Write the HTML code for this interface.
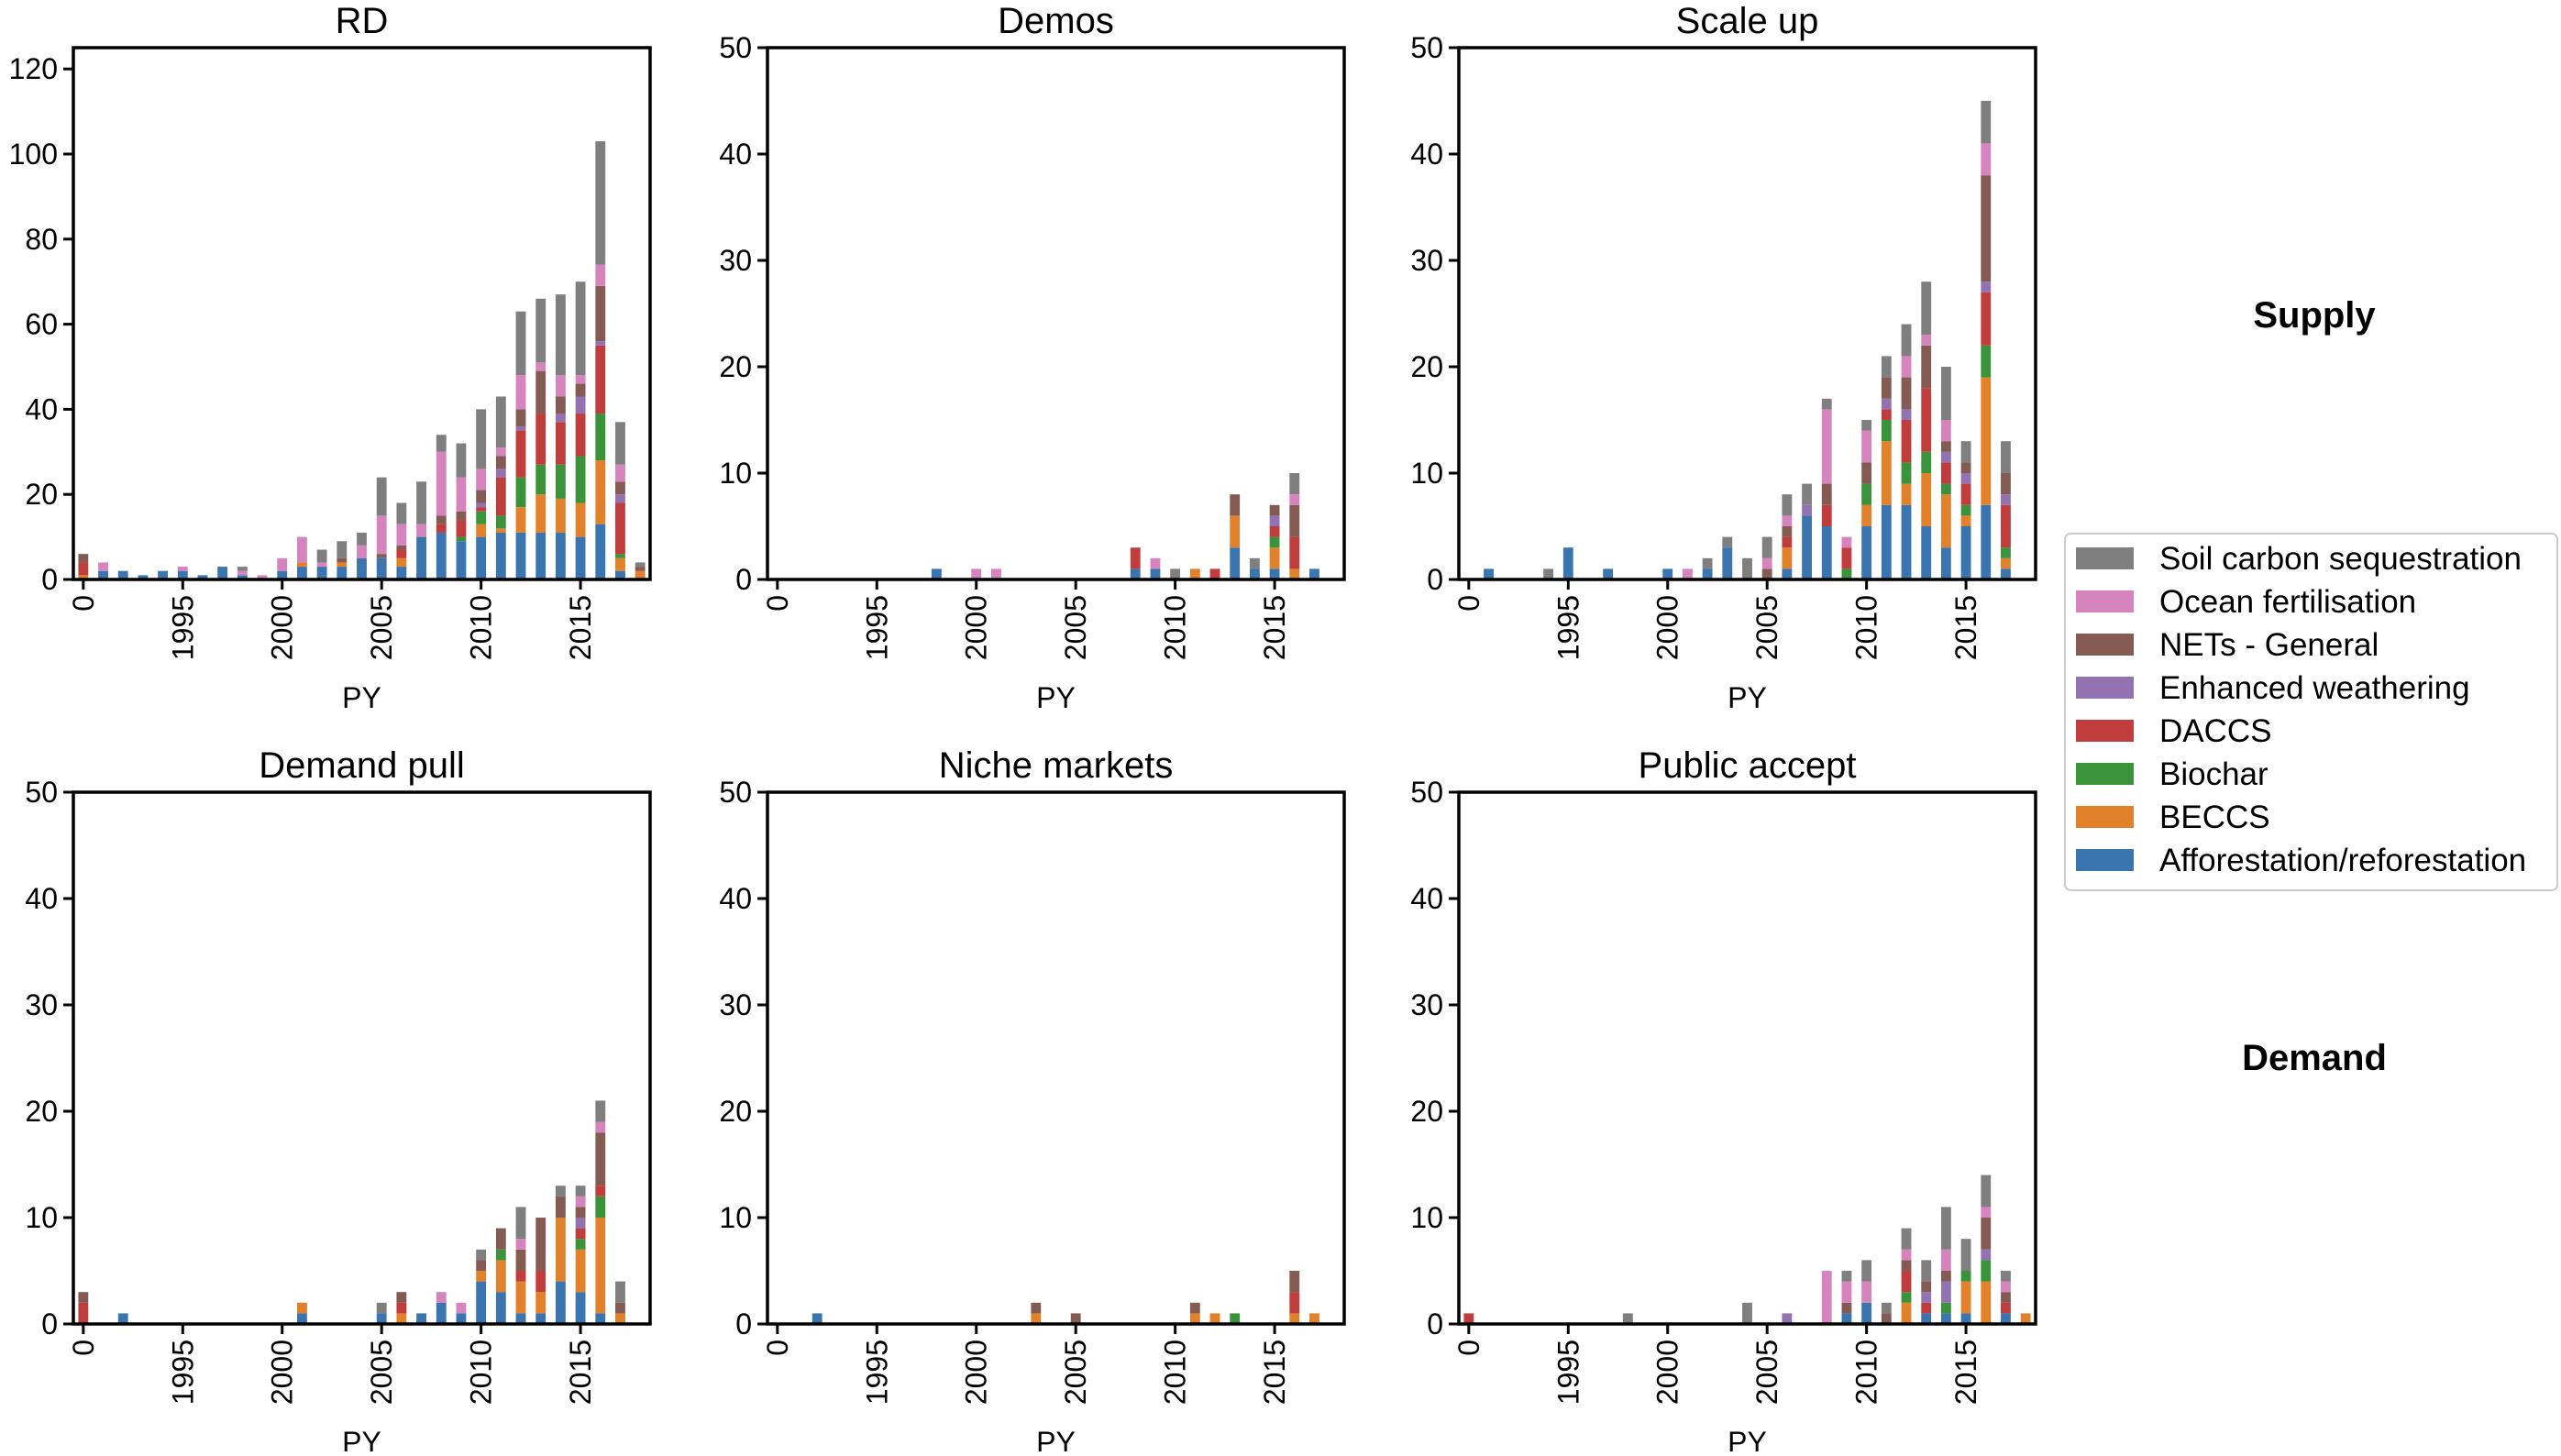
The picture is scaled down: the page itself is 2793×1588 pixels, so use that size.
<!DOCTYPE html>
<html><head><meta charset="utf-8"><style>
html,body{margin:0;padding:0;background:#fff}
svg text{font-family:"Liberation Sans","DejaVu Sans",sans-serif;fill:#000}
</style></head><body>
<svg id="fig" xmlns="http://www.w3.org/2000/svg" width="2793" height="1583" viewBox="0 0 2793 1583"></svg>
<script>
// categories: index 0 labelled "0", then 1991..2018
const categories = ["0",1991,1992,1993,1994,1995,1996,1997,1998,1999,2000,2001,2002,2003,2004,2005,2006,2007,2008,2009,2010,2011,2012,2013,2014,2015,2016,2017,2018];
const seriesNames = ["Afforestation/reforestation","BECCS","Biochar","DACCS","Enhanced weathering","NETs - General","Ocean fertilisation","Soil carbon sequestration"];
const seriesColors = ["#3b75af","#e1812c","#3a923a","#c03d3e","#9372b2","#845b53","#d684bd","#7f7f7f"];
const xTickLabels = ["0","1995","2000","2005","2010","2015"];
const xTickIndex = [0,5,10,15,20,25];
const panelTitles = ["RD","Demos","Scale up","Demand pull","Niche markets","Public accept"];
const yTicksRD = [0,20,40,60,80,100,120];
const yTicksOther = [0,10,20,30,40,50];
const yMaxRD = 125, yMaxOther = 50;

// RD
const rdBlue   = [0,2,2,1,2,2,1,3,1,0, 2,3,3,3,5,5,3,10,11,9, 10,11,11,11,11,10,13,2,0];
const rdOrange = [1,0,0,0,0,0,0,0,0,0, 0,1,0,1,0,0,2,0,0,0, 3,1,6,9,8,8,15,3,2];
const rdGreen  = [0,0,0,0,0,0,0,0,0,0, 0,0,0,0,0,0,0,0,0,1, 3,3,7,7,8,11,11,1,0];
const rdRed    = [3,0,0,0,0,0,0,0,0,0, 0,0,0,0,0,0,2,0,2,4, 1,9,11,12,10,10,16,12,0];
const rdPurple = [0,0,0,0,0,0,0,0,0,0, 0,0,0,0,0,0,0,0,0,0, 1,2,1,0,2,4,1,2,0];
const rdBrown  = [2,0,0,0,0,0,0,0,0,0, 0,0,0,1,0,1,1,0,2,2, 3,3,4,10,4,3,13,3,1];
const rdPink   = [0,2,0,0,0,1,0,0,1,1, 3,6,1,0,3,9,5,3,15,8, 5,2,8,2,5,2,5,4,0];
const rdGray   = [0,0,0,0,0,0,0,0,1,0, 0,0,3,4,3,9,5,10,4,8, 14,12,15,15,19,22,29,10,1];
// Demos
const deBlue   = [0,0,0,0,0,0,0,0,1,0, 0,0,0,0,0,0,0,0,1,1, 0,0,0,3,1,1,0,1,0];
const deOrange = [0,0,0,0,0,0,0,0,0,0, 0,0,0,0,0,0,0,0,0,0, 0,1,0,3,0,2,1,0,0];
const deGreen  = [0,0,0,0,0,0,0,0,0,0, 0,0,0,0,0,0,0,0,0,0, 0,0,0,0,0,1,0,0,0];
const deRed    = [0,0,0,0,0,0,0,0,0,0, 0,0,0,0,0,0,0,0,2,0, 0,0,1,0,0,1,3,0,0];
const dePurple = [0,0,0,0,0,0,0,0,0,0, 0,0,0,0,0,0,0,0,0,0, 0,0,0,0,0,1,0,0,0];
const deBrown  = [0,0,0,0,0,0,0,0,0,0, 0,0,0,0,0,0,0,0,0,0, 0,0,0,2,0,1,3,0,0];
const dePink   = [0,0,0,0,0,0,0,0,0,0, 1,1,0,0,0,0,0,0,0,1, 0,0,0,0,0,0,1,0,0];
const deGray   = [0,0,0,0,0,0,0,0,0,0, 0,0,0,0,0,0,0,0,0,0, 1,0,0,0,1,0,2,0,0];
// Scale up
const suBlue   = [0,1,0,0,0,3,0,1,0,0, 1,0,1,3,0,0,1,6,5,0, 5,7,7,5,3,5,7,1,0];
const suOrange = [0,0,0,0,0,0,0,0,0,0, 0,0,0,0,0,0,2,0,0,0, 2,6,2,5,5,1,12,1,0];
const suGreen  = [0,0,0,0,0,0,0,0,0,0, 0,0,0,0,0,0,0,0,0,1, 2,2,2,2,1,1,3,1,0];
const suRed    = [0,0,0,0,0,0,0,0,0,0, 0,0,0,0,0,0,1,0,2,2, 0,1,4,6,2,2,5,4,0];
const suPurple = [0,0,0,0,0,0,0,0,0,0, 0,0,0,0,0,0,0,1,0,0, 0,1,1,0,1,1,1,1,0];
const suBrown  = [0,0,0,0,0,0,0,0,0,0, 0,0,0,0,0,1,1,0,2,0, 2,2,3,4,1,1,10,2,0];
const suPink   = [0,0,0,0,0,0,0,0,0,0, 0,1,0,0,0,1,1,0,7,1, 3,0,2,1,2,0,3,0,0];
const suGray   = [0,0,0,0,1,0,0,0,0,0, 0,0,1,1,2,2,2,2,1,0, 1,2,3,5,5,2,4,3,0];
// Demand pull
const dpBlue   = [0,0,1,0,0,0,0,0,0,0, 0,1,0,0,0,1,0,1,2,1, 4,3,1,1,4,3,1,0,0];
const dpOrange = [0,0,0,0,0,0,0,0,0,0, 0,1,0,0,0,0,1,0,0,0, 1,3,3,2,6,4,9,1,0];
const dpGreen  = [0,0,0,0,0,0,0,0,0,0, 0,0,0,0,0,0,0,0,0,0, 0,1,0,0,0,1,2,0,0];
const dpRed    = [2,0,0,0,0,0,0,0,0,0, 0,0,0,0,0,0,1,0,0,0, 0,0,1,2,0,1,1,0,0];
const dpPurple = [0,0,0,0,0,0,0,0,0,0, 0,0,0,0,0,0,0,0,0,0, 0,0,0,0,0,1,0,0,0];
const dpBrown  = [1,0,0,0,0,0,0,0,0,0, 0,0,0,0,0,0,1,0,0,0, 1,2,2,5,2,1,5,1,0];
const dpPink   = [0,0,0,0,0,0,0,0,0,0, 0,0,0,0,0,0,0,0,1,1, 0,0,1,0,0,1,1,0,0];
const dpGray   = [0,0,0,0,0,0,0,0,0,0, 0,0,0,0,0,1,0,0,0,0, 1,0,3,0,1,1,2,2,0];
// Niche markets
const nmBlue   = [0,0,1,0,0,0,0,0,0,0, 0,0,0,0,0,0,0,0,0,0, 0,0,0,0,0,0,0,0,0];
const nmOrange = [0,0,0,0,0,0,0,0,0,0, 0,0,0,1,0,0,0,0,0,0, 0,1,1,0,0,0,1,1,0];
const nmGreen  = [0,0,0,0,0,0,0,0,0,0, 0,0,0,0,0,0,0,0,0,0, 0,0,0,1,0,0,0,0,0];
const nmRed    = [0,0,0,0,0,0,0,0,0,0, 0,0,0,0,0,0,0,0,0,0, 0,0,0,0,0,0,2,0,0];
const nmPurple = [0,0,0,0,0,0,0,0,0,0, 0,0,0,0,0,0,0,0,0,0, 0,0,0,0,0,0,0,0,0];
const nmBrown  = [0,0,0,0,0,0,0,0,0,0, 0,0,0,1,0,1,0,0,0,0, 0,1,0,0,0,0,2,0,0];
const nmPink   = [0,0,0,0,0,0,0,0,0,0, 0,0,0,0,0,0,0,0,0,0, 0,0,0,0,0,0,0,0,0];
const nmGray   = [0,0,0,0,0,0,0,0,0,0, 0,0,0,0,0,0,0,0,0,0, 0,0,0,0,0,0,0,0,0];
// Public accept
const paBlue   = [0,0,0,0,0,0,0,0,0,0, 0,0,0,0,0,0,0,0,0,1, 2,0,0,1,1,1,0,1,0];
const paOrange = [0,0,0,0,0,0,0,0,0,0, 0,0,0,0,0,0,0,0,0,0, 0,0,2,0,0,3,4,0,1];
const paGreen  = [0,0,0,0,0,0,0,0,0,0, 0,0,0,0,0,0,0,0,0,0, 0,0,1,0,1,1,2,0,0];
const paRed    = [1,0,0,0,0,0,0,0,0,0, 0,0,0,0,0,0,0,0,0,0, 0,0,2,1,0,0,0,1,0];
const paPurple = [0,0,0,0,0,0,0,0,0,0, 0,0,0,0,0,0,1,0,0,0, 0,0,0,1,2,0,1,0,0];
const paBrown  = [0,0,0,0,0,0,0,0,0,0, 0,0,0,0,0,0,0,0,0,1, 0,1,1,1,1,0,3,1,0];
const paPink   = [0,0,0,0,0,0,0,0,0,0, 0,0,0,0,0,0,0,0,5,2, 2,0,1,0,2,0,1,1,0];
const paGray   = [0,0,0,0,0,0,0,0,1,0, 0,0,0,0,2,0,0,0,0,1, 2,1,2,2,4,3,3,1,0];

const panelSeries = [
  [rdBlue,rdOrange,rdGreen,rdRed,rdPurple,rdBrown,rdPink,rdGray],
  [deBlue,deOrange,deGreen,deRed,dePurple,deBrown,dePink,deGray],
  [suBlue,suOrange,suGreen,suRed,suPurple,suBrown,suPink,suGray],
  [dpBlue,dpOrange,dpGreen,dpRed,dpPurple,dpBrown,dpPink,dpGray],
  [nmBlue,nmOrange,nmGreen,nmRed,nmPurple,nmBrown,nmPink,nmGray],
  [paBlue,paOrange,paGreen,paRed,paPurple,paBrown,paPink,paGray]
];

const NS = "http://www.w3.org/2000/svg";
const svg = document.getElementById("fig");
function mk(tag, attrs, parent){ const e=document.createElementNS(NS,tag); for(const k in attrs) e.setAttribute(k,attrs[k]); (parent||svg).appendChild(e); return e; }

const colLeft = [80, 837, 1591], W = 629;
const rowTop = [52, 864], H = 580;

panelTitles.forEach((title, p) => {
  const L = colLeft[p%3], T = rowTop[Math.floor(p/3)], B = T+H;
  const ymax = p===0 ? yMaxRD : yMaxOther;
  const yticks = p===0 ? yTicksRD : yTicksOther;
  const n = categories.length;
  const xs = i => L + (i+0.5)/n*W;
  const ys = v => B - v/ymax*H;
  const g = mk("g", {});
  
  
  const series = panelSeries[p];
  const bw = 0.5/n*W;
  const cum = new Array(n).fill(0);
  series.forEach((vals, s) => {
    vals.forEach((v, i) => {
      if (!v) return;
      const r = mk("rect", {x: xs(i)-bw/2, y: ys(cum[i]+v), width: bw, height: ys(cum[i])-ys(cum[i]+v), fill: seriesColors[s]}, g);
      
      
      cum[i] += v;
    });
  });
  const frame = mk("rect", {x:L, y:T, width:W, height:H, fill:"none", stroke:"#000", "stroke-width":3.5}, g);
  
  
  yticks.forEach(t => {
    const y = ys(t);
    mk("line", {x1:L-11, x2:L, y1:y, y2:y, stroke:"#000", "stroke-width":3}, g);
    const tx = mk("text", {x:L-17, y:y+11, "text-anchor":"end", "font-size":32}, g);
    tx.textContent = t;
    
    
  });
  xTickIndex.forEach((ti, k) => {
    const x = xs(ti);
    mk("line", {x1:x, x2:x, y1:B, y2:B+11, stroke:"#000", "stroke-width":3}, g);
    const tx = mk("text", {x:0, y:0, "text-anchor":"end", "font-size":32, transform:`translate(${x+11},${B+17}) rotate(-90)`}, g);
    tx.textContent = xTickLabels[k];
    
    
  });
  const tt = mk("text", {x:L+W/2, y:T-16, "text-anchor":"middle", "font-size":40}, g);
  tt.textContent = title;
  
  
  const xl = mk("text", {x:L+W/2, y:B+140, "text-anchor":"middle", "font-size":32}, g);
  xl.textContent = "PY";
  
  
});

const rs = mk("text", {x:2524, y:357, "text-anchor":"middle", "font-size":40, "font-weight":"bold"});
rs.textContent = "Supply";


const rdm = mk("text", {x:2524, y:1167, "text-anchor":"middle", "font-size":40, "font-weight":"bold"});
rdm.textContent = "Demand";



const lg = mk("g", {});


mk("rect", {x:2252, y:582, width:537, height:389, rx:6, fill:"#fff", stroke:"#cccccc", "stroke-width":2}, lg);
for (let k = 0; k < 8; k++) {
  const s = 7 - k;
  const cy = 609 + k*47;
  const e = mk("g", {}, lg);
  
  
  mk("rect", {x:2264, y:cy-12, width:63, height:24, fill:seriesColors[s]}, e);
  const t = mk("text", {x:2355, y:cy+12, "font-size":35}, e);
  t.textContent = seriesNames[s];
}
</script>
</body></html>
